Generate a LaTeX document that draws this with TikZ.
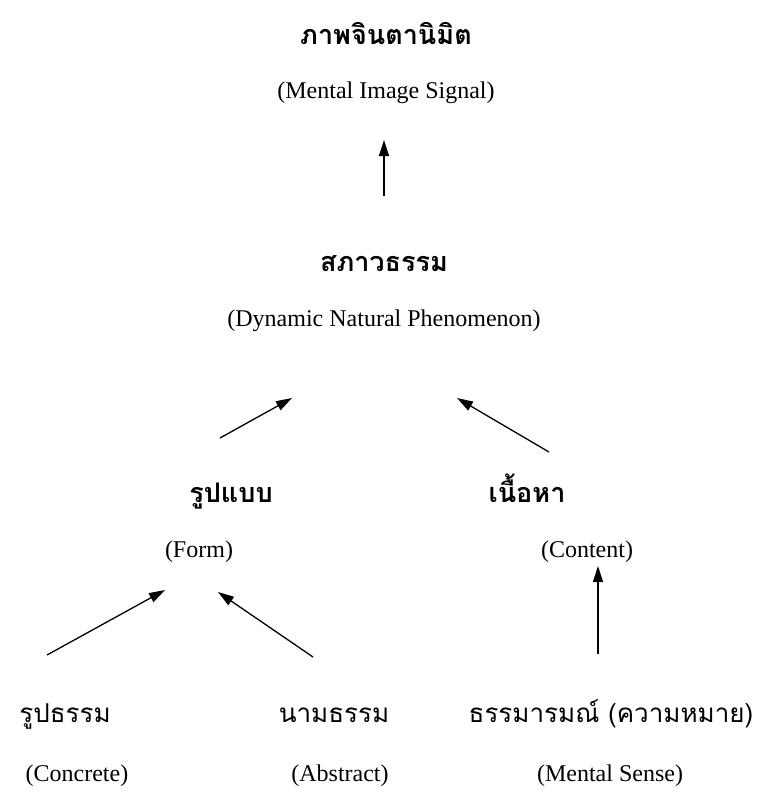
\documentclass[tikz,border=0pt]{standalone}
\usepackage{fontspec}
\setmainfont{Liberation Serif}
\newfontfamily\thaifont[Script=Thai]{Loma}
\usetikzlibrary{arrows.meta}

\begin{document}
\begin{tikzpicture}[x=1pt,y=-1pt,
        thai/.style={anchor=base,font=\thaifont\fontsize{26}{30}\selectfont},
        thaibold/.style={anchor=base,font=\thaifont\bfseries\fontsize{27}{31}\selectfont},
        eng/.style={anchor=base,font=\fontsize{24}{28}\selectfont},
        arr/.style={line width=1.3pt,-{Triangle[length=16pt,width=10pt]}}]
        \useasboundingbox (0,0) rectangle (756,796);
        % top level
        \node[thaibold] (mental) at (386,44) {ภาพจินตานิมิต};
        \node[eng] (mentalen) at (386,98) {(Mental Image Signal)};
        \node[thaibold] (sabhava) at (384,271) {สภาวธรรม};
        \node[eng] (sabhavaen) at (384,326) {(Dynamic Natural Phenomenon)};
        % middle level
        \node[thaibold] (form) at (231,502) {รูปแบบ};
        \node[eng] (formen) at (199,557) {(Form)};
        \node[thaibold] (content) at (527,502) {เนื้อหา};
        \node[eng] (contenten) at (587,557) {(Content)};
        % bottom level
        \node[thai] (rupa) at (65,722) {รูปธรรม};
        \node[eng] (rupaen) at (77,781) {(Concrete)};
        \node[thai] (nama) at (334,722) {นามธรรม};
        \node[eng] (namaen) at (340,781) {(Abstract)};
        \node[thai] (dhamma) at (611,722) {ธรรมารมณ์ (ความหมาย)};
        \node[eng] (dhammaen) at (610,781) {(Mental Sense)};
        % arrow ends
        \coordinate (s1) at (384,196); \coordinate (e1) at (384,140);
        \coordinate (s2) at (220,438); \coordinate (e2) at (292,398);
        \coordinate (s3) at (549,452); \coordinate (e3) at (457,398);
        \coordinate (s4) at (47,655);  \coordinate (e4) at (165,590);
        \coordinate (s5) at (313,657); \coordinate (e5) at (218,592);
        \coordinate (s6) at (598,654); \coordinate (e6) at (598,566);
        \draw[arr] (s1) -- (e1);
        \draw[arr] (s2) -- (e2);
        \draw[arr] (s3) -- (e3);
        \draw[arr] (s4) -- (e4);
        \draw[arr] (s5) -- (e5);
        \draw[arr] (s6) -- (e6);
\end{tikzpicture}
\end{document}
